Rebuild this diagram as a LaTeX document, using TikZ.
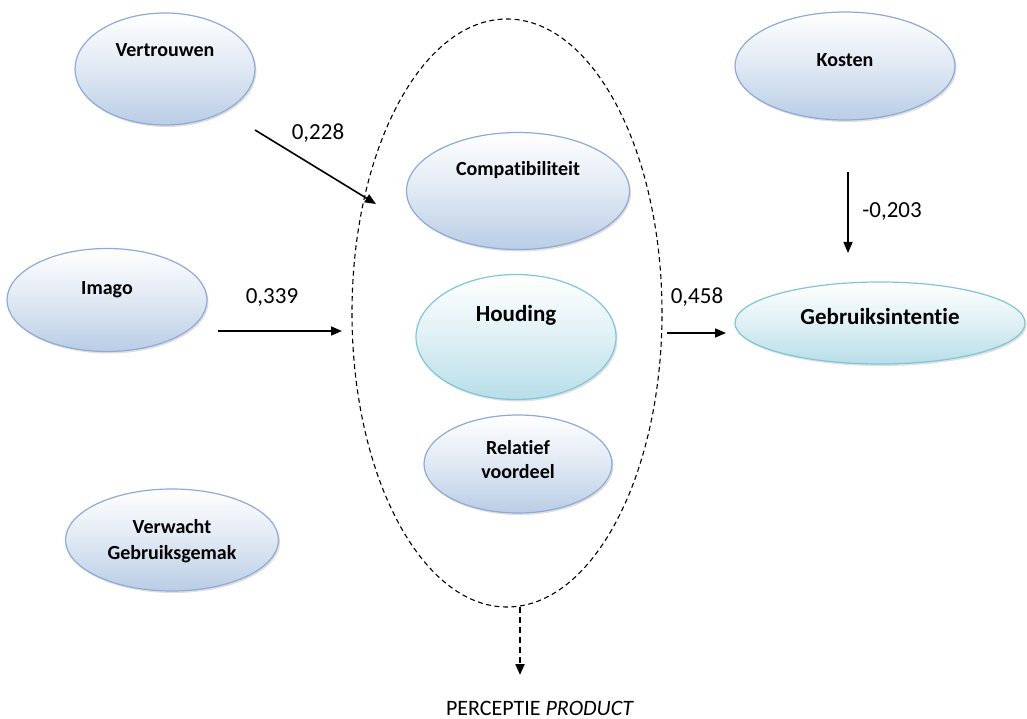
\documentclass[tikz,border=0pt]{standalone}
\usepackage{fontspec}
\setmainfont{Carlito}[Ligatures=NoCommon]
\usetikzlibrary{shapes.geometric,arrows.meta,shadows}
\definecolor{bluefill}{HTML}{B9CDE5}
\definecolor{blueline}{HTML}{8FAAD6}
\definecolor{cyanfill}{HTML}{B7DEE8}
\definecolor{cyanline}{HTML}{7FC6D8}
\tikzset{
  oval/.style={ellipse, inner sep=0pt, draw=blueline, line width=1.2pt, top color=white, bottom color=bluefill, middle color=bluefill!45,
    drop shadow={opacity=0.25, shadow xshift=1.5pt, shadow yshift=-2pt}},
  ovalc/.style={oval, draw=cyanline, bottom color=cyanfill, middle color=cyanfill!45},
  lbl/.style={font=\bfseries\fontsize{20}{24}\selectfont, align=center},
  lblbig/.style={font=\bfseries\fontsize{23}{27}\selectfont},
  num/.style={font=\fontsize{23}{27}\selectfont},
  arr/.style={-{Triangle[length=11pt,width=9pt]}, line width=1.6pt},
}
\begin{document}
\begin{tikzpicture}[x=1pt,y=-1pt]
\useasboundingbox (0,0) rectangle (1027,719);
% dashed group
\node[ellipse, draw, dashed, dash pattern=on 5pt off 3.5pt, line width=1.1pt, minimum width=310pt, minimum height=588pt, inner sep=0pt] (grp) at (507,313) {};
% ellipses
\node[oval, minimum width=180pt, minimum height=112pt] (vert) at (165,69) {};
\node[lbl] (vertT) at (165,50) {Vertrouwen};
\node[oval, minimum width=200pt, minimum height=103pt] (imago) at (107,300) {};
\node[lbl] (imagoT) at (107,290) {Imago};
\node[oval, minimum width=213pt, minimum height=102pt] (verw) at (172,540) {};
\node[lbl] (verwT) at (172,541) {Verwacht\\[2pt]Gebruiksgemak};
\node[oval, minimum width=220pt, minimum height=108pt] (kost) at (845,66) {};
\node[lbl] (kostT) at (845,60) {Kosten};
\node[ovalc, minimum width=290pt, minimum height=82pt] (gebr) at (880,323) {};
\node[lblbig] (gebrT) at (880,317) {Gebruiksintentie};
\node[oval, minimum width=223pt, minimum height=117pt] (comp) at (518,191) {};
\node[lbl] (compT) at (518,170) {Compatibiliteit};
\node[ovalc, minimum width=200pt, minimum height=125pt] (houd) at (516,337) {};
\node[lblbig] (houdT) at (516,315) {Houding};
\node[oval, minimum width=188pt, minimum height=98pt] (rel) at (518,464) {};
\node[lbl] (relT) at (518,460) {Relatief\\[0pt]voordeel};
% arrow endpoints
\coordinate (a1s) at (255,130); \coordinate (a1e) at (376,204);
\coordinate (a2s) at (218,331); \coordinate (a2e) at (342,331);
\coordinate (a3s) at (667,333); \coordinate (a3e) at (726,333);
\coordinate (a4s) at (848,172); \coordinate (a4e) at (848,253);
\coordinate (a5s) at (520,607); \coordinate (a5e) at (520,675);
\draw[arr] (a1s) -- (a1e);
\draw[arr] (a2s) -- (a2e);
\draw[arr] (a3s) -- (a3e);
\draw[arr] (a4s) -- (a4e);
\draw[arr, line width=2.2pt, dashed, dash pattern=on 6pt off 4pt] (a5s) -- (a5e);
\node[num] (n1) at (318,133) {0,228};
\node[num] (n2) at (272,298) {0,339};
\node[num] (n3) at (697,297) {0,458};
\node[num] (n4) at (892,212) {-0,203};
\node[font=\fontsize{22}{26}\selectfont] (perc) at (540,708) {PERCEPTIE \textit{PRODUCT}};
\end{tikzpicture}
\end{document}
